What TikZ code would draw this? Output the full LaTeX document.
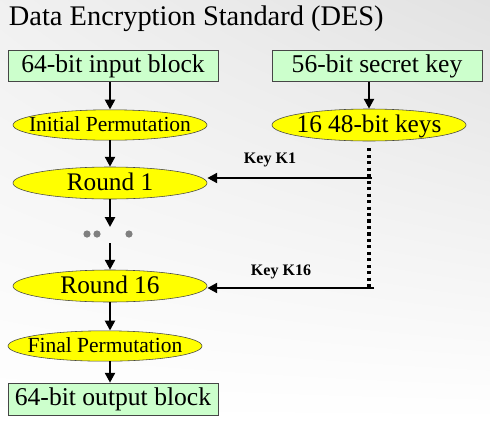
\documentclass[tikz,border=0pt]{standalone}
\usepackage{fontspec}
\setmainfont{Liberation Serif}
\usetikzlibrary{arrows.meta,positioning,shapes.geometric,shadings}
\definecolor{verdeclaro}{RGB}{204,255,204}
\definecolor{amarelo}{RGB}{255,255,0}
\definecolor{borda}{RGB}{70,70,70}
\definecolor{cinzafundo}{RGB}{226,226,226}
\tikzset{
  bloco/.style={rectangle,draw=borda,fill=verdeclaro,minimum width=5.25cm,
    minimum height=0.78cm,inner sep=0pt,font=\fontsize{18.2}{21}\selectfont},
  % texto largo sem alargar a elipse
  elipse/.style={ellipse,draw=borda,fill=amarelo,minimum width=4.85cm,
    minimum height=0.76cm,inner sep=0pt,text height=9pt,text depth=0pt,
    font=\fontsize{15.3}{17}\selectfont,
    execute at begin node={\setbox0\hbox\bgroup},
    execute at end node={\egroup\hbox to 0pt{\hss\box0\hss}}},
  elipsegrande/.style={elipse,minimum height=0.8cm,text height=10pt,
    font=\fontsize{18}{20}\selectfont},
  ponto/.style={circle,fill=gray,inner sep=0pt,minimum size=1.8mm},
  seta/.style={-{Triangle[length=7pt,width=7pt]},line width=2.1pt},
  rotulo/.style={font=\bfseries\fontsize{11.4}{13}\selectfont}
}
\begin{document}
\begin{tikzpicture}[x=0.025cm,y=-0.025cm]
\shade[upper left=cinzafundo!50,upper right=cinzafundo,lower left=white,lower right=white]
  (0,0) rectangle (490,421);
\useasboundingbox (0,0) rectangle (490,421);
\node[anchor=west,font=\fontsize{20.2}{24}\selectfont] (titulo) at (4,19) {Data Encryption Standard (DES)};
% blocos e elipses
\node[bloco] (entrada) at (113,66) {64-bit input block};
\node[bloco] (chave) at (377,66) {56-bit secret key};
\node[elipse] (ip) at (110,125) {Initial Permutation};
\node[elipsegrande] (subchaves) at (369,125) {16 48-bit keys};
\node[elipsegrande] (r1) at (110,183) {Round 1};
\node[elipsegrande] (r16) at (110,286) {Round 16};
\node[elipse] (fp) at (105,346) {Final Permutation};
\node[bloco,minimum height=0.8cm] (saida) at (113,399) {64-bit output block};
% reticencias
\coordinate (p1) at (110,227);
\coordinate (p2) at (110,243);
\node[ponto] (d1) at (87,234) {};
\node[ponto] (d2) at (97,234) {};
\node[ponto] (d3) at (129,234) {};
% chaves
\coordinate (k1) at (372,178);
\coordinate (k16) at (374,288);
\coordinate (kfim) at (369,289);
\node[rotulo] (lk1) at (270,160) {Key K1};
\node[rotulo] (lk16) at (281,272) {Key K16};
% setas
\draw[seta] (entrada.south -| ip.north) -- (ip.north);
\draw[seta] (chave.south -| subchaves.north) -- (subchaves.north);
\draw[seta] (ip.south) -- (r1.north);
\draw[seta] (r1.south) -- (p1);
\draw[seta] (p2) -- (r16.north);
\draw[seta] (r16.south) -- (r16.south |- fp.north);
\draw[seta] (fp.south -| r16.south) -- (saida.north -| r16.south);
\draw[seta] (k1) -- (k1 -| r1.east);
\draw[seta] (k16) -- (k16 -| r16.east);
\draw[line width=2.4pt,dash pattern=on 2.2pt off 2.4pt,shorten <=5pt] (subchaves.south) -- (kfim);
\end{tikzpicture}
\end{document}
